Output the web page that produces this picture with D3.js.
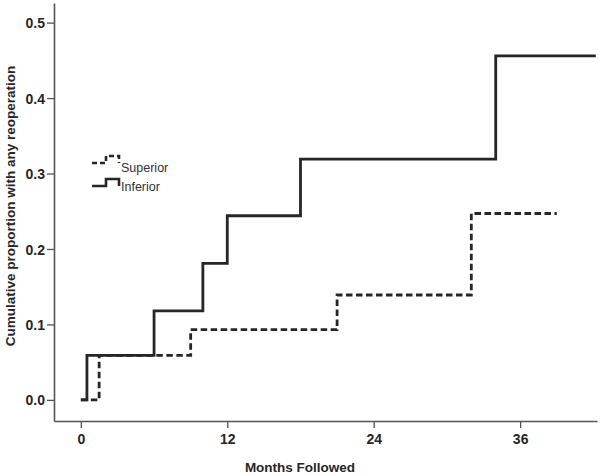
<!DOCTYPE html>
<html>
<head>
<meta charset="utf-8">
<script src="https://cdn.jsdelivr.net/npm/d3@7"></script>
<style>
  body { margin: 0; background: #fff; }
  text { font-family: "Liberation Sans", Arial, sans-serif; }
</style>
</head>
<body>
<svg id="chart" width="600" height="475"></svg>
<script>
// step points (months, cumulative proportion)
const superiorMonths = [0, 1.5, 9, 21, 32, 39];
const superiorValues = [0, 0.059, 0.093, 0.139, 0.247, 0.247];
const inferiorMonths = [0, 0.5, 6, 10, 12, 18, 34, 42.2];
const inferiorValues = [0, 0.059, 0.118, 0.181, 0.244, 0.319, 0.456, 0.456];

const xTicks = [0, 12, 24, 36];
const yTicks = [0, 0.1, 0.2, 0.3, 0.4, 0.5];
const seriesNames = ["Superior", "Inferior"];

const svg = d3.select("#chart");
const ink = "#262626";
const axisInk = "#555";

const x = d3.scaleLinear().domain([-2.2, 42.3]).range([54, 597]);
const y = d3.scaleLinear().domain([-0.028, 0.526]).range([421, 3]);

// axes
const gx = svg.append("g")
  .attr("transform", `translate(0,${y.range()[0]})`)
  .call(d3.axisBottom(x).tickValues(xTicks).tickSize(7).tickSizeOuter(0).tickPadding(6));
const gy = svg.append("g")
  .attr("transform", `translate(${x.range()[0]},0)`)
  .call(d3.axisLeft(y).tickValues(yTicks).tickFormat(d3.format(".1f")).tickSize(7).tickSizeOuter(0).tickPadding(2));

[gx, gy].forEach(g => {
  g.select(".domain").attr("stroke", axisInk).attr("stroke-width", 1.6);
  g.selectAll(".tick line").attr("stroke", axisInk).attr("stroke-width", 1.3);
  g.selectAll(".tick text")
    .attr("fill", ink)
    .attr("font-size", 14)
    .attr("font-weight", "bold")
    .attr("font-family", "Liberation Sans, Arial, sans-serif");
});
gy.selectAll(".tick text").attr("dy", "0.36em");

// axis titles
svg.append("text")
  .attr("x", 300).attr("y", 472)
  .attr("text-anchor", "middle")
  .attr("font-size", 13.5).attr("font-weight", "bold").attr("fill", ink)
  .text("Months Followed");
svg.append("text")
  .attr("transform", "translate(15,206) rotate(-90)")
  .attr("text-anchor", "middle")
  .attr("font-size", 13.5).attr("font-weight", "bold").attr("fill", ink)
  .text("Cumulative proportion with any reoperation");

// step lines
const step = d3.line()
  .x(d => x(d[0]))
  .y(d => y(d[1]))
  .curve(d3.curveStepAfter);

const series = [
  { name: "Inferior", pts: d3.zip(inferiorMonths, inferiorValues), dash: null },
  { name: "Superior", pts: d3.zip(superiorMonths, superiorValues), dash: "6.5,3.5" }
];

svg.selectAll(".km")
  .data(series)
  .enter()
  .append("path")
  .attr("class", "km")
  .attr("d", d => step(d.pts))
  .attr("fill", "none")
  .attr("stroke", ink)
  .attr("stroke-width", 2.8)
  .attr("stroke-dasharray", d => d.dash);

// legend
const legend = svg.append("g").attr("transform", "translate(92,156)");
const icon = d3.line();
const iconPts = [[0, 7], [14, 7], [14, 0], [27, 0], [27, 7]];
seriesNames.forEach((name, i) => {
  const g = legend.append("g").attr("transform", `translate(0,${i * 23})`);
  g.append("path")
    .attr("d", icon(iconPts))
    .attr("fill", "none")
    .attr("stroke", ink)
    .attr("stroke-width", 2.6)
    .attr("stroke-dasharray", name === "Superior" ? "5,3" : null);
  g.append("text")
    .attr("x", 29).attr("y", name === "Superior" ? 16 : 12)
    .attr("font-size", 12.5).attr("fill", "#333")
    .text(name);
});
</script>
</body>
</html>
